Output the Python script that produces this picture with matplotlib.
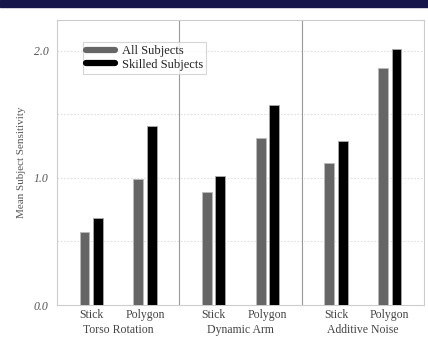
import matplotlib
matplotlib.use("Agg")
import matplotlib.pyplot as plt
from matplotlib.patches import Rectangle
from matplotlib.lines import Line2D
import numpy as np

#%%-------------------- Data --------------------------------------------------
groups = ["Torso Rotation", "Dynamic Arm", "Additive Noise"]
styles = ["Stick", "Polygon"]
all_subjects = [0.57, 0.99, 0.89, 1.31, 1.12, 1.86]
skilled_subjects = [0.68, 1.41, 1.01, 1.57, 1.29, 2.01]
yticks = [0.0, 1.0, 2.0]

#%%-------------------- Figure ------------------------------------------------
plt.rcParams['font.family'] = ['Liberation Serif', 'DejaVu Serif']
fig = plt.figure(figsize=(4.28, 3.39), dpi=100)
fig.patches.append(Rectangle((0, 1 - 7 / 339), 1, 7 / 339, transform=fig.transFigure,
                             color='#16164a', zorder=0))
ax = fig.add_axes([57 / 428, 1 - 305 / 339, (424 - 57) / 428, (305 - 20) / 339])

pos = []
for g in range(len(groups)):
    pos += [g + 0.28, g + 0.72]
pos = np.array(pos)
w = 0.08
off = 0.055
ax.bar(pos - off, all_subjects, w, color='#666666', edgecolor='#bbbbbb', linewidth=0.6, zorder=3)
ax.bar(pos + off, skilled_subjects, w, color='#000000', edgecolor='#aaaaaa', linewidth=0.6, zorder=3)

ax.set_xlim(0, 3)
ax.set_ylim(0, 2.24)
for g in range(1, len(groups)):
    ax.axvline(g, color='#999999', lw=0.8, zorder=2)
for y in [0.5, 1.0, 1.5, 2.0]:
    ax.axhline(y, color='#e0e0e0', lw=0.8, ls=(0, (1.5, 1.5)), zorder=1)

ax.set_yticks(yticks)
ax.set_yticklabels([f"{v:.1f}" for v in yticks], fontstyle='italic', color='#555555', fontsize=8.5)
ax.set_xticks(pos)
ax.set_xticklabels(styles * len(groups), color='#444444', fontsize=8.5)
ax.tick_params(length=0, pad=3)
ax.tick_params(axis='y', pad=6)
# nom de groupe sous les ticks
for g, name in enumerate(groups):
    ax.annotate(name, xy=(g + 0.5, 0), xycoords=('data', 'axes fraction'),
                xytext=(0, -19), textcoords='offset pixels',
                ha='center', va='top', fontsize=8.5, color='#444444')

for s in ax.spines.values():
    s.set_color('#cccccc')
    s.set_linewidth(0.8)

ax.set_ylabel("Mean Subject Sensitivity", fontsize=8, color='#555555', labelpad=6)

handles = [Line2D([], [], color='#666666', lw=4.5, solid_capstyle='round'),
           Line2D([], [], color='#000000', lw=4.5, solid_capstyle='round')]
leg = ax.legend(handles, ["All Subjects", "Skilled Subjects"], loc='upper left',
                bbox_to_anchor=(0.06, 0.935), fontsize=9, handlelength=2.3,
                frameon=True, fancybox=False, borderpad=0.25, labelspacing=0.1,
                handletextpad=0.55, borderaxespad=0.3)
leg.get_frame().set_edgecolor('#cccccc')
leg.get_frame().set_linewidth(0.8)
for t in leg.get_texts():
    t.set_color('#222222')

fig.savefig("out.png", dpi=100)
